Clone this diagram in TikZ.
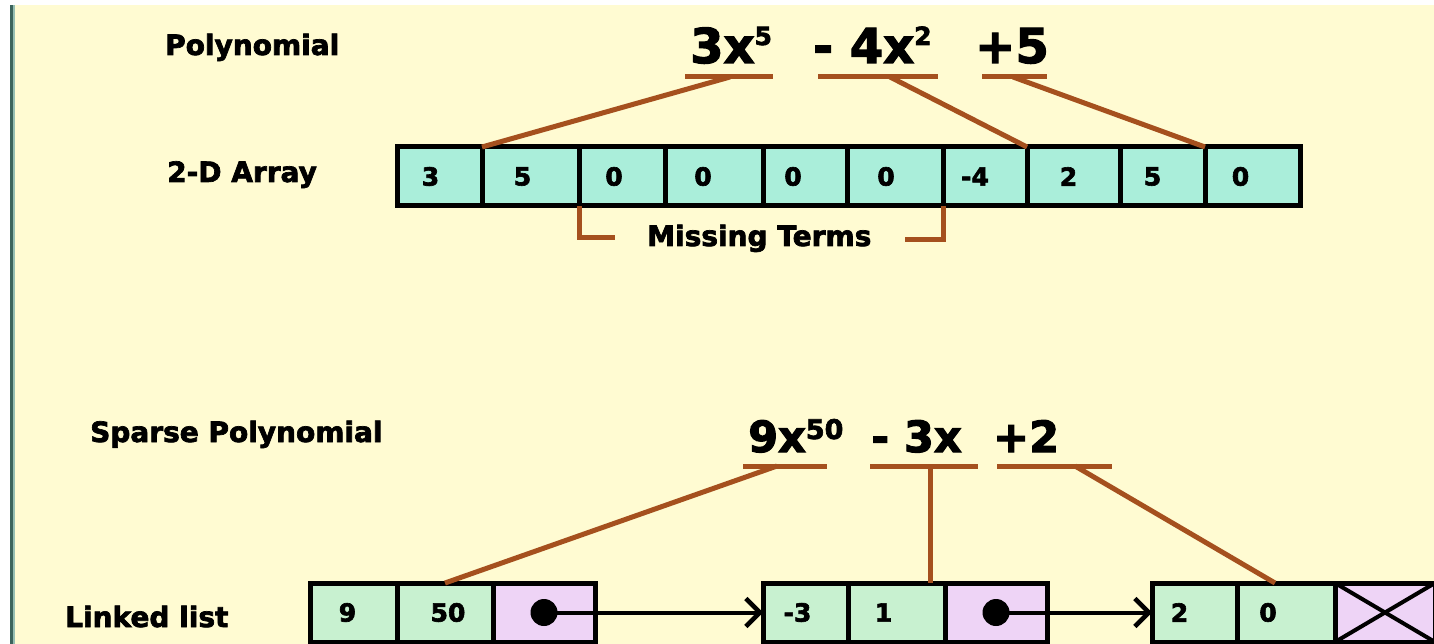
\documentclass[tikz,border=0pt]{standalone}
\usepackage{fontspec}
\setmainfont{DejaVu Sans}[BoldFeatures={FakeBold=2.5}]
\usetikzlibrary{arrows.meta}
\definecolor{bgc}{RGB}{255,251,210}
\definecolor{acol}{RGB}{170,238,218}
\definecolor{lcol}{RGB}{200,241,208}
\definecolor{pcol}{RGB}{238,212,246}
\definecolor{brc}{RGB}{165,80,30}
\definecolor{barc}{RGB}{60,100,92}
\definecolor{barl}{RGB}{150,190,178}
\newcommand\shifted[2]{\hspace*{#1pt}#2\hspace*{-#1pt}}
\newcommand\supx[3]{\raisebox{#1pt}{\fontsize{#2}{#2}\selectfont #3}}
\begin{document}
\begin{tikzpicture}[x=1pt,y=-1pt,
  lbl/.style={anchor=base west, inner sep=0, font=\fontsize{28}{30}\selectfont\bfseries},
  term/.style={anchor=base west, inner sep=0, font=\fontsize{48}{50}\selectfont\bfseries},
  sterm/.style={anchor=base west, inner sep=0, font=\fontsize{43}{45}\selectfont\bfseries},
  cellbase/.style={draw=black, line width=5pt, inner sep=0, outer sep=0, minimum height=59,
    font=\fontsize{25}{26}\selectfont\bfseries},
  acell/.style={cellbase, fill=acol},
  lcell/.style={cellbase, fill=lcol},
  pcell/.style={cellbase, fill=pcol},
  brn/.style={draw=brc, line width=5pt},
  dotnode/.style={circle, fill=black, inner sep=0, minimum size=27},
  link/.style={draw=black, line width=4pt, -{Straight Barb[length=14pt,width=28pt,line width=4.5pt]}}
]
\useasboundingbox (0,0) rectangle (1434,644);
\clip (0,0) rectangle (1434,644);
\fill[white] (0,0) rectangle (1434,644);
\fill[bgc] (10,5) rectangle (1434,644);
\fill[barc] (10,5) rectangle (13,644);
\fill[barl] (13,5) rectangle (15,644);

% labels
\node[lbl] (lpoly) at (165,55) {Polynomial};
\node[lbl] (larr) at (167,182) {2-D Array};
\node[lbl] (lmiss) at (647,246) {Missing Terms};
\node[lbl] (lsparse) at (90,442) {Sparse Polynomial};
\node[lbl] (llist) at (65,627) {Linked list};

% polynomial terms
\node[term] (t1) at (690,63) {3x\supx{18}{25}{5}};
\node[term] (t2) at (813,63) {- 4x\supx{18}{25}{2}};
\node[term] (t3) at (975,63) {+5};

% sparse terms
\node[sterm] (s1) at (748,452) {9x\supx{13}{27}{50}};
\node[sterm] (s2) at (871,452) {- 3x};
\node[sterm] (s3) at (993,452) {+2};

% array
\foreach \l/\r/\v/\s [count=\n] in {397/482/3/-9, 482/579/5/-8, 579/665/0/-8, 665/763/0/-11,
    763/847/0/-12, 847/943/0/-9, 943/1027/-4/-10, 1027/1120/2/-5, 1120/1205/5/-10, 1205/1300/0/-12}
  \node[acell, minimum width={\r-\l}] (a\n) at ({(\l+\r)/2},176.5) {\shifted{\s}{\v}};

% underlines of polynomial
\coordinate (u1l) at (685,77); \coordinate (u1r) at (773,77); \coordinate (u1c) at (730,77);
\coordinate (u2l) at (818,77); \coordinate (u2r) at (938,77); \coordinate (u2c) at (890,77);
\coordinate (u3l) at (982,77); \coordinate (u3r) at (1047,77); \coordinate (u3c) at (1013,77);
\draw[brn] (u1l) -- (u1r);
\draw[brn] (u2l) -- (u2r);
\draw[brn] (u3l) -- (u3r);
\draw[brn] (u1c) -- (a1.north east);
\draw[brn] (u2c) -- (a7.north east);
\draw[brn] (u3c) -- (a9.north east);

% missing terms bracket
\draw[brn, line join=miter] (a3.south west) -- ++(0,32) -- ++(36,0);
\draw[brn, line join=miter] (a6.south east) -- ++(0,34) -- ++(-38,0);

% linked list
\node[lcell, minimum width=87] (n1a) at (353.5,612.5) {\shifted{-6}{9}};
\node[lcell, minimum width=96] (n1b) at (445,612.5) {\shifted{3}{50}};
\node[pcell, minimum width=102] (n1p) at (544,612.5) {};
\node[lcell, minimum width=85] (n2a) at (805.5,612.5) {\shifted{-8}{-3}};
\node[lcell, minimum width=97] (n2b) at (896.5,612.5) {\shifted{-13}{1}};
\node[pcell, minimum width=102] (n2p) at (996,612.5) {};
\node[lcell, minimum width=85] (n3a) at (1194.5,612.5) {\shifted{-15}{2}};
\node[lcell, minimum width=98] (n3b) at (1286,612.5) {\shifted{-18}{0}};
\node[pcell, minimum width=100] (n3x) at (1385,612.5) {};
\draw[line width=4pt] (n3x.north west) -- (n3x.south east);
\draw[line width=4pt] (n3x.south west) -- (n3x.north east);

\node[dotnode] (d1) at (n1p.center) {};
\node[dotnode] (d2) at (n2p.center) {};
\draw[link] (d1.center) -- (n2a.west);
\draw[link] (d2.center) -- (n3a.west);

% underlines of sparse polynomial
\coordinate (v1l) at (743,466); \coordinate (v1r) at (827,466); \coordinate (v1c) at (777,466);
\coordinate (v2l) at (870,466); \coordinate (v2r) at (978,466); \coordinate (v2c) at (930,466);
\coordinate (v3l) at (997,466); \coordinate (v3r) at (1112,466); \coordinate (v3c) at (1075,466);
\draw[brn] (v1l) -- (v1r);
\draw[brn] (v2l) -- (v2r);
\draw[brn] (v3l) -- (v3r);
\draw[brn] (v1c) -- (n1b.north);
\draw[brn] (v2c) -- (v2c |- n2b.north);
\draw[brn] (v3c) -- ([xshift=-11pt]n3b.north);
\end{tikzpicture}
\end{document}
